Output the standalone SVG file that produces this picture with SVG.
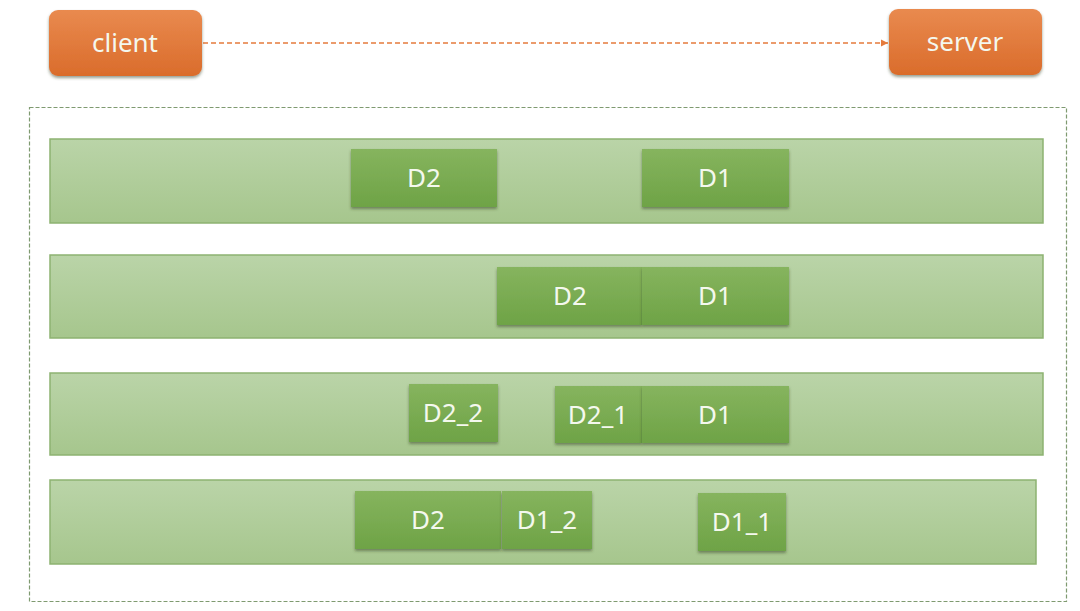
<svg xmlns="http://www.w3.org/2000/svg" width="1080" height="611" viewBox="0 0 1080 611">
<style>
.row{fill:url(#rowg);stroke:#8db271;stroke-width:1.5}
.blk{fill:url(#blkg);filter:url(#sh)}
.org{fill:url(#orgg);filter:url(#sh)}
.t{font-family:"Noto Sans","Open Sans",sans-serif;font-size:26px;fill:#f4f8ee;text-anchor:middle}
.frame{fill:none;stroke:#7f9a70;stroke-width:1.2;stroke-dasharray:4 2}
.conn{fill:none;stroke:#e57b3c;stroke-width:1.3;stroke-dasharray:5 3}
</style>
<defs>
<linearGradient id="rowg" x1="0" y1="0" x2="0" y2="1"><stop offset="0" stop-color="#bad4a8"/><stop offset="1" stop-color="#a6c68d"/></linearGradient>
<linearGradient id="blkg" x1="0" y1="0" x2="0" y2="1"><stop offset="0" stop-color="#86b45e"/><stop offset="1" stop-color="#6ea346"/></linearGradient>
<linearGradient id="orgg" x1="0" y1="0" x2="0" y2="1"><stop offset="0" stop-color="#e98a4f"/><stop offset="1" stop-color="#da6c2b"/></linearGradient>
<filter id="sh" x="-10%" y="-10%" width="120%" height="140%"><feDropShadow dx="0" dy="2" stdDeviation="1.5" flood-color="#2d3a20" flood-opacity="0.5"/></filter>
<marker id="arr" markerWidth="8" markerHeight="8" refX="7" refY="4" orient="auto" markerUnits="userSpaceOnUse"><path d="M0,0.5 L7,4 L0,7.5 Z" fill="#e57b3c"/></marker>
</defs>
<rect width="1080" height="611" fill="#ffffff"/>
<g id="connectors">
<line class="conn" x1="203" y1="43" x2="888" y2="43" marker-end="url(#arr)"/>
</g>
<g id="client"><rect class="org" x="49" y="10" width="153" height="66" rx="9"/><text class="t" x="125" y="52">client</text></g>
<g id="server"><rect class="org" x="889" y="9" width="153" height="66" rx="9"/><text class="t" x="965" y="51">server</text></g>
<g id="frame"><rect class="frame" x="29.5" y="107.5" width="1037" height="494"/></g>
<g id="row1">
<rect class="row" x="50" y="139" width="993" height="84"/>
<g id="r1-d2"><rect class="blk" x="351" y="149" width="146" height="58"/><text class="t" x="424" y="187">D2</text></g>
<g id="r1-d1"><rect class="blk" x="642" y="149" width="147" height="58"/><text class="t" x="715" y="187">D1</text></g>
</g>
<g id="row2">
<rect class="row" x="50" y="255" width="993" height="83"/>
<g id="r2-d2"><rect class="blk" x="497" y="267" width="145" height="58"/><text class="t" x="570" y="305">D2</text></g>
<g id="r2-d1"><rect class="blk" x="642" y="267" width="147" height="58"/><text class="t" x="715" y="305">D1</text></g>
</g>
<g id="row3">
<rect class="row" x="50" y="373" width="993" height="82"/>
<g id="r3-d22"><rect class="blk" x="409" y="384" width="89" height="58"/><text class="t" x="453" y="422">D2_2</text></g>
<g id="r3-d21"><rect class="blk" x="555" y="386" width="87" height="57"/><text class="t" x="598" y="424">D2_1</text></g>
<g id="r3-d1"><rect class="blk" x="642" y="386" width="147" height="57"/><text class="t" x="715" y="424">D1</text></g>
</g>
<g id="row4">
<rect class="row" x="50" y="480" width="986" height="84"/>
<g id="r4-d2"><rect class="blk" x="355" y="491" width="146" height="58"/><text class="t" x="428" y="529">D2</text></g>
<g id="r4-d12"><rect class="blk" x="502" y="491" width="90" height="58"/><text class="t" x="547" y="529">D1_2</text></g>
<g id="r4-d11"><rect class="blk" x="698" y="493" width="88" height="58"/><text class="t" x="742" y="531">D1_1</text></g>
</g>
</svg>
